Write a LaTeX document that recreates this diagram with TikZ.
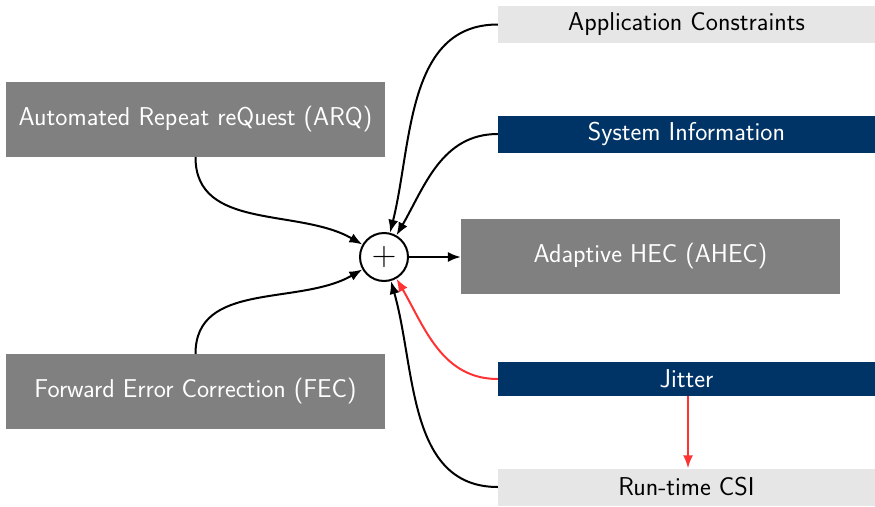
\documentclass[tikz,border=0pt]{standalone}
\usetikzlibrary{arrows.meta}
\definecolor{darkblue}{RGB}{0,51,102}
\definecolor{midgray}{RGB}{128,128,128}
\definecolor{lightgray}{RGB}{230,230,230}
\definecolor{myred}{RGB}{255,51,51}
\tikzset{
  bigbox/.style={fill=midgray, text=white, minimum width=379pt, minimum height=75pt, inner sep=0pt},
  lightbar/.style={fill=lightgray, text=black, minimum width=377pt, minimum height=37pt, inner sep=0pt},
  darkbar/.style={fill=darkblue, text=white, minimum width=377pt, minimum height=37pt, inner sep=0pt},
  sumnode/.style={circle, draw, line width=2pt, minimum size=48pt, inner sep=0pt, font=\fontsize{34}{38}\selectfont\rmfamily},
  conn/.style={line width=2pt, -{Latex[length=13pt,width=10pt]}},
}
\begin{document}
\begin{tikzpicture}[x=1pt, y=-1pt, font=\fontsize{25.8}{30}\selectfont\sffamily]
\useasboundingbox (0,0) rectangle (875,506);
\node[bigbox] (arq) at (195.5,119.5) {Automated Repeat reQuest (ARQ)};
\node[bigbox] (fec) at (195.5,391.5) {Forward Error Correction (FEC)};
\node[bigbox] (ahec) at (650.5,256) {Adaptive HEC (AHEC)};
\node[lightbar] (app) at (686.5,24.5) {Application Constraints};
\node[darkbar] (sys) at (686.5,134) {System Information};
\node[darkbar, minimum height=34pt] (jit) at (686.5,379) {Jitter};
\node[lightbar] (csi) at (686.5,487) {Run-time CSI};
\node[sumnode] (plus) at (384,257) {+};

\draw[conn] (arq.south) to[out=-90, in=150] (plus);
\draw[conn] (fec.north) to[out=90, in=210] (plus);
\draw[conn] (app.west) to[out=180, in=76] (plus);
\draw[conn] (sys.west) to[out=180, in=60] (plus);
\draw[conn, myred] (jit.west) to[out=180, in=-60] (plus);
\draw[conn] (csi.west) to[out=180, in=-74] (plus);
\draw[conn, myred] (jit.south -| 688,0) -- (csi.north -| 688,0);
\draw[conn] (plus.east) -- (plus.east -| ahec.west);
\end{tikzpicture}
\end{document}
